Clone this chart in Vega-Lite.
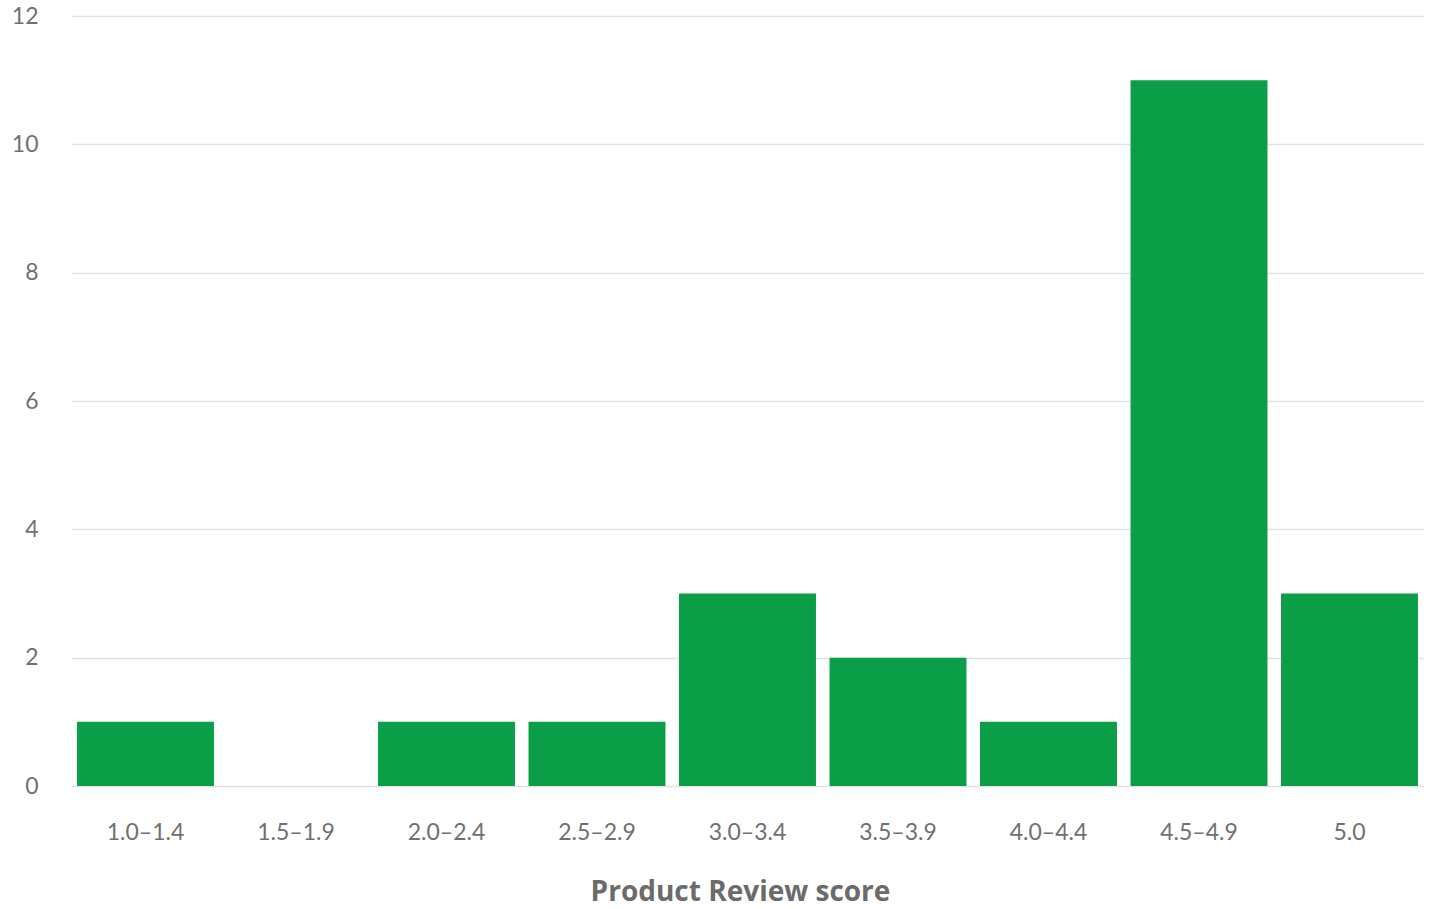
{
  "$schema": "https://vega.github.io/schema/vega-lite/v6.json",
  "width": 1353,
  "height": 770,
  "autosize": {"type": "none"},
  "padding": {"left": 71, "top": 16, "right": 8, "bottom": 123},
  "background": "white",
  "config": {"view": {"stroke": null}},
  "data": {"values": [
    {"score": "1.0–1.4", "count": 1},
    {"score": "1.5–1.9", "count": 0},
    {"score": "2.0–2.4", "count": 1},
    {"score": "2.5–2.9", "count": 1},
    {"score": "3.0–3.4", "count": 3},
    {"score": "3.5–3.9", "count": 2},
    {"score": "4.0–4.4", "count": 1},
    {"score": "4.5–4.9", "count": 11},
    {"score": "5.0", "count": 3}
  ]},
  "mark": {"type": "bar", "color": "#0a9f47"},
  "encoding": {
    "x": {
      "field": "score", "type": "nominal", "sort": null,
      "scale": {"paddingInner": 0.09, "paddingOuter": 0.04},
      "axis": {
        "title": "Product Review score", "labelAngle": 0,
        "domain": false, "ticks": false,
        "labelFont": "Lato", "labelFontSize": 23, "labelFontWeight": "normal", "labelColor": "#707070",
        "labelPadding": 35,
        "titleFont": "Open Sans", "titleFontSize": 28, "titleFontWeight": "bold", "titleColor": "#6b6b6b",
        "titlePadding": 34, "titleX": 669, "titleAlign": "center"
      }
    },
    "y": {
      "field": "count", "type": "quantitative",
      "scale": {"domain": [0, 12]},
      "axis": {
        "title": null, "values": [0, 2, 4, 6, 8, 10, 12],
        "domain": false, "ticks": false,
        "grid": true, "gridColor": "#e2e2e2", "gridWidth": 1.5,
        "labelFont": "Lato", "labelFontSize": 23, "labelFontWeight": "normal", "labelColor": "#707070",
        "labelPadding": 33
      }
    }
  }
}
